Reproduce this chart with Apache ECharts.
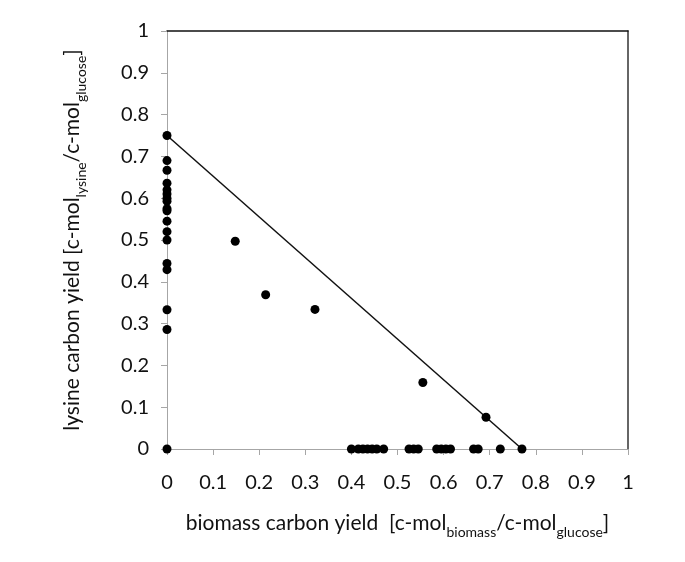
<!DOCTYPE html>
<html>
<head>
<meta charset="utf-8">
<script src="https://cdn.jsdelivr.net/npm/echarts@6/dist/echarts.min.js"></script>
<style>
  html, body { margin: 0; padding: 0; background: #fff; }
  #chart { width: 685px; height: 562px; }
</style>
</head>
<body>
<div id="chart"></div>
<script>
// 纵轴上的点 (biomass = 0)
const axisLysine = [0.75, 0.69, 0.667, 0.636, 0.62, 0.61, 0.6, 0.593, 0.575, 0.57, 0.545, 0.52, 0.5, 0.444, 0.429, 0.333, 0.286, 0];
// 横轴上的点 (lysine = 0)
const axisBiomass = [0.40, 0.415, 0.425, 0.435, 0.445, 0.455, 0.47, 0.525, 0.535, 0.545, 0.585, 0.595, 0.605, 0.615, 0.665, 0.675, 0.723, 0.77];
// 其余点
const midBiomass = [0.148, 0.214, 0.321, 0.555, 0.692];
const midLysine = [0.497, 0.369, 0.334, 0.159, 0.076];
// 理论上限线
const limitBiomass = [0, 0.77];
const limitLysine = [0.75, 0];

const FONT = 'Lato';
const GRAY = '#a6a6a6';

const points = [];
axisLysine.forEach(v => points.push([0, v]));
axisBiomass.forEach(v => points.push([v, 0]));
midBiomass.forEach((v, i) => points.push([v, midLysine[i]]));

const nameRich = {
    a: { fontFamily: FONT, fontSize: 21, color: '#111', lineHeight: 26, verticalAlign: 'bottom' },
    s: { fontFamily: FONT, fontSize: 14, color: '#111', lineHeight: 26, verticalAlign: 'bottom', padding: [0, 0, -5, 0] }
};

const baseAxis = {
    type: 'value',
    min: 0,
    max: 1,
    interval: 0.1,
    splitLine: { show: false },
    axisLine: { show: true, lineStyle: { color: GRAY, width: 1 } },
    axisTick: { show: true, inside: false, length: 6, lineStyle: { color: GRAY } },
    axisLabel: { fontFamily: FONT, fontSize: 20, color: '#111' }
};

const chart = echarts.init(document.getElementById('chart'));
chart.setOption({
    animation: false,
    backgroundColor: '#fff',
    grid: { left: 167, right: 57, top: 31, bottom: 113 },
    xAxis: [
        Object.assign({}, baseAxis, {
            position: 'bottom',
            axisLabel: Object.assign({}, baseAxis.axisLabel, { margin: 24 }),
            name: '{a|biomass carbon yield  [c-mol}{s|biomass}{a|/c-mol}{s|glucose}{a|]}',
            nameLocation: 'middle',
            nameGap: 59,
            nameTextStyle: { rich: nameRich }
        }),
        {
            type: 'value', min: 0, max: 1, position: 'top',
            axisLine: { show: true, onZero: false, lineStyle: { color: '#111', width: 1.5 } },
            axisTick: { show: false }, axisLabel: { show: false }, splitLine: { show: false }
        }
    ],
    yAxis: [
        Object.assign({}, baseAxis, {
            position: 'left',
            axisLabel: Object.assign({}, baseAxis.axisLabel, { margin: 18 }),
            name: '{a|lysine carbon yield [c-mol}{s|lysine}{a|/c-mol}{s|glucose}{a|]}',
            nameLocation: 'middle',
            nameGap: 84,
            nameTextStyle: { rich: nameRich }
        }),
        {
            type: 'value', min: 0, max: 1, position: 'right',
            axisLine: { show: true, onZero: false, lineStyle: { color: '#333', width: 1.5 } },
            axisTick: { show: false }, axisLabel: { show: false }, splitLine: { show: false }
        }
    ],
    series: [
        {
            type: 'line',
            data: limitBiomass.map((v, i) => [v, limitLysine[i]]),
            symbol: 'none',
            lineStyle: { color: '#111', width: 1.5 },
            z: 2
        },
        {
            type: 'scatter',
            data: points,
            symbol: 'circle',
            symbolSize: 9,
            itemStyle: { color: '#000', opacity: 1 },
            z: 3
        }
    ]
});
</script>
</body>
</html>
